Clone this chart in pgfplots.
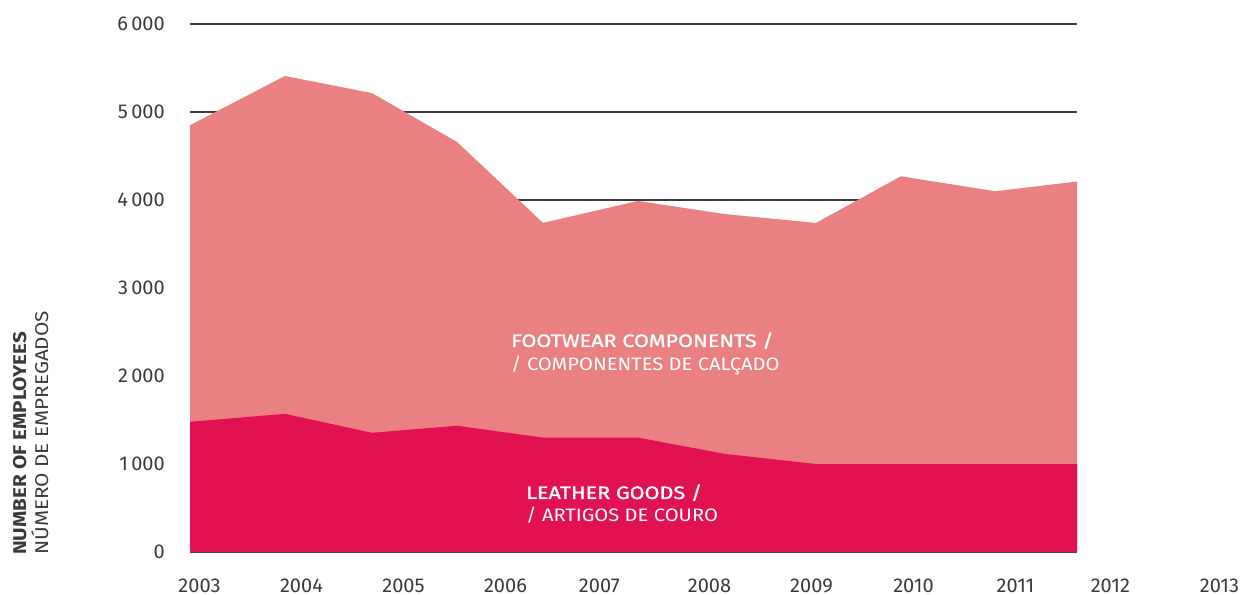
\documentclass[border=0pt]{standalone}
\usepackage{fontspec}
\setmainfont{Fira Sans}
\newfontfamily\labelfont{Fira Sans}[FakeStretch=1.12]
\newfontfamily\labelmed{Fira Sans}[FakeStretch=1.2, FakeBold=1.4]
\newfontfamily\titlefont{Fira Sans}[FakeStretch=1.12]
\usepackage{pgfplots}
\pgfplotsset{compat=1.18}

\definecolor{FootPink}{HTML}{EA8082}
\definecolor{LeatherRed}{HTML}{E1124F}
\definecolor{GridInk}{HTML}{3C3C3C}
\definecolor{TickInk}{HTML}{3A3A3A}

\pgfplotsset{
  baseaxis/.style={
    at={(190bp,43bp)}, anchor=south west,
    x=102bp, y=0.088bp,
    xmin=2002.907, ymin=0, ymax=6000,
    axis line style={draw=none},
    tick style={draw=none},
    /pgf/number format/assume math mode=true,
    /pgf/number format/1000 sep={\,},
    ticklabel style={font=\fontsize{20bp}{24bp}\selectfont, text=TickInk, inner sep=0pt},
    clip=false
  }
}

\begin{document}
\begin{tikzpicture}
  \useasboundingbox (0,0) rectangle (1241bp,595bp);

  % areas + y grid
  \begin{axis}[
    baseaxis,
    xmax=2011.603,
    xtick=\empty,
    ytick={0,1000,2000,3000,4000,5000,6000},
    ymajorgrids,
    major grid style={draw=GridInk, line width=1.3bp},
    yticklabel style={anchor=east, xshift=-25bp}
  ]
    % total employees
    \addplot[fill=FootPink, draw=none] coordinates {
      (2002.907,4850) (2003.838,5410) (2004.691,5215) (2005.525,4660)
      (2006.368,3740) (2007.299,3990) (2008.152,3840) (2009.044,3740)
      (2009.877,4270) (2010.799,4100) (2011.603,4210)
    } \closedcycle;
    % leather goods
    \addplot[fill=LeatherRed, draw=none] coordinates {
      (2002.907,1480) (2003.838,1570) (2004.691,1355) (2005.525,1435)
      (2006.368,1300) (2007.299,1300) (2008.152,1115) (2009.044,1000)
      (2009.877,1000) (2010.799,1000) (2011.603,1000)
    } \closedcycle;
  \end{axis}

  % year labels
  \begin{axis}[
    baseaxis,
    xmax=2013.3,
    ytick=\empty,
    xtick={2003,2004,2005,2006,2006.92,2008,2009,2010,2011,2011.93,2013},
    xticklabels={2003,2004,2005,2006,2007,2008,2009,2010,2011,2012,2013},
    xticklabel style={anchor=base, yshift=-40bp}
  ]
  \end{axis}

  \begin{scope}[every node/.style={inner sep=0pt, text=white,
      anchor=base west}]
    \node[font=\labelmed\fontsize{18bp}{21bp}\selectfont] at (511bp,248bp) {FOOTWEAR COMPONENTS /};
    \node[font=\labelfont\fontsize{18bp}{21bp}\selectfont] at (511bp,224bp) {/ COMPONENTES DE CALÇADO};
    \node[font=\labelmed\fontsize{18bp}{21bp}\selectfont] at (526bp,96bp) {LEATHER GOODS /};
    \node[font=\labelfont\fontsize{18bp}{21bp}\selectfont] at (526bp,73bp) {/ ARTIGOS DE COURO};
  \end{scope}

  \begin{scope}[every node/.style={inner sep=0pt, text=TickInk, rotate=90,
      anchor=base west, font=\titlefont\fontsize{18.5bp}{22bp}\selectfont}]
    \node at (26bp,40bp) {\bfseries NUMBER OF EMPLOYEES};
    \node at (48bp,40bp) {NÚMERO DE EMPREGADOS};
  \end{scope}
\end{tikzpicture}
\end{document}
